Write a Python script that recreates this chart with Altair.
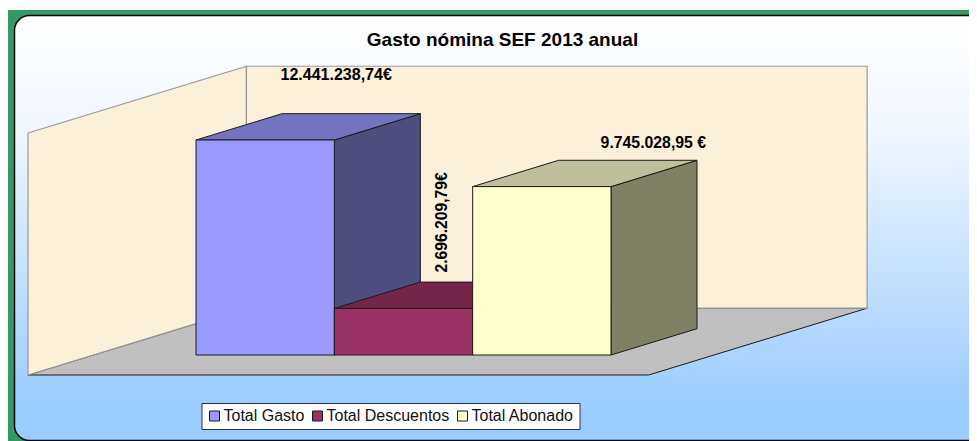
import altair as alt
import pandas as pd

# ---- chart values ----
categories = ["Total Gasto", "Total Descuentos", "Total Abonado"]
values = [12441238.74, 2696209.79, 9745028.95]
value_labels = ["12.441.238,74€", "2.696.209,79€", "9.745.028,95 €"]
title_text = "Gasto nómina SEF 2013 anual"
axis_max = 14000000

# ---- 3D projection ----
W, H = 961, 433
UNIT = 138.33          # px per category
EURO_PX = 215 / values[0]
DX = 86 / UNIT         # x shift per depth unit
DY = 26.3 / EURO_PX    # y shift per depth unit
D_FRONT, D_BACK = -0.76, 1.78
F_L, F_R = -0.742, 3.745

x_scale = alt.Scale(domain=[(8 - 196) / UNIT, (969 - 196) / UNIT], range=[0, W], zero=False, nice=False)
y_scale = alt.Scale(domain=[(355 - 441) / EURO_PX, (355 - 8) / EURO_PX], range=[H, 0], zero=False, nice=False)

def X(u, d=0): return u + d * DX
def Y(v, d=0): return v + d * DY

X_ = alt.X("x:Q", scale=x_scale, axis=None, title=None)
Y_ = alt.Y("y:Q", scale=y_scale, axis=None, title=None, stack=None)
EDGE = "#1a1a1a"

def side(u, v, d0, d1, fill, stroke=EDGE, width=1):
    df = pd.DataFrame({"x": [X(u, d0), X(u, d1)],
                       "y": [Y(v, d0), Y(v, d1)],
                       "y2": [Y(0, d0), Y(0, d1)]})
    return alt.Chart(df).mark_area(orient="vertical", fill=fill, stroke=stroke, strokeWidth=width, opacity=1).encode(
        x=X_, y=Y_, y2="y2:Q")

def top(u0, u1, v, d0, d1, fill, stroke=EDGE, width=1):
    df = pd.DataFrame({"y": [Y(v, d0), Y(v, d1)],
                       "x": [X(u0, d0), X(u0, d1)],
                       "x2": [X(u1, d0), X(u1, d1)]})
    return alt.Chart(df).mark_area(orient="horizontal", fill=fill, stroke=stroke, strokeWidth=width, opacity=1).encode(
        x=X_, x2="x2:Q", y=Y_)

# Background
outer = alt.Chart(pd.DataFrame({"a": [0]})).mark_rect(fill="#339966").encode(
    x=alt.value(-1), x2=alt.value(W), y=alt.value(2), y2=alt.value(H))
panel = alt.Chart(pd.DataFrame({"a": [0]})).mark_rect(
    cornerRadius=15, stroke="#0a0a0a", strokeWidth=1.5,
    fill=alt.Gradient(gradient="linear", x1=0, y1=0, x2=0, y2=1, stops=[
        alt.GradientStop(offset=0, color="#ffffff"),
        alt.GradientStop(offset=0.28, color="#f0f6ff"),
        alt.GradientStop(offset=0.70, color="#b9daff"),
        alt.GradientStop(offset=0.92, color="#99ccff"),
        alt.GradientStop(offset=1, color="#99ccff")])
).encode(x=alt.value(6.5), x2=alt.value(W + 14), y=alt.value(7.5), y2=alt.value(H - 0.5))

WALL = "#fbf0d9"
WALL_EDGE = "#999999"
floor = top(F_L, F_R, 0, D_FRONT, D_BACK, "#c0c0c0", EDGE, 1)
left_wall = side(F_L, axis_max, D_FRONT, D_BACK, WALL, WALL_EDGE, 1.2)
back_df = pd.DataFrame({"x": [X(F_L, D_BACK)], "x2": [X(F_R, D_BACK)],
                        "y": [Y(axis_max, D_BACK)], "y2": [Y(0, D_BACK)]})
back_wall = alt.Chart(back_df).mark_rect(fill=WALL, stroke=WALL_EDGE, strokeWidth=1.2).encode(
    x=X_, x2="x2:Q", y=Y_, y2="y2:Q")

# Bars
front_colors = ["#9999ff", "#993366", "#ffffcc"]
top_colors = ["#7373bf", "#732649", "#bfbf99"]
side_colors = ["#4d4d80", "#4d1a33", "#808066"]

faces = []
for i, v in enumerate(values):
    faces.append(side(i + 1, v, 0, 1, side_colors[i]))
    faces.append(top(i, i + 1, v, 0, 1, top_colors[i]))

front_df = pd.DataFrame({"x": [float(i) for i in range(3)], "x2": [float(i + 1) for i in range(3)],
                         "y": values, "y2": [0.0] * 3, "cat": categories})
fronts = alt.Chart(front_df).mark_rect(stroke=EDGE, strokeWidth=1, opacity=1).encode(
    x=X_, x2="x2:Q", y=Y_, y2="y2:Q",
    fill=alt.Fill("cat:N", sort=categories,
                  scale=alt.Scale(domain=categories, range=front_colors),
                  legend=alt.Legend(
                      title=None, orient="none", legendX=193.5, legendY=395, direction="horizontal",
                      columns=3, symbolType="square", symbolSize=100, symbolStrokeColor="#1a1a1a",
                      symbolStrokeWidth=1, symbolOpacity=1,
                      fillColor="#ffffff", strokeColor="#333344", padding=5, columnPadding=5,
                      labelFont="Liberation Sans", labelFontSize=16, labelColor="#111111", labelOffset=1)))

# Value labels
def label(i, dx, dy, size, angle=0):
    df = pd.DataFrame({"x": [i + 0.5], "y": [values[i]], "t": [value_labels[i]]})
    return alt.Chart(df).mark_text(font="Liberation Sans", fontWeight="bold", fontSize=size, color="#000000",
                                   dx=dx, dy=dy, angle=angle, align="center", baseline="middle").encode(
        x=X_, y=Y_, text="t:N")

labels = [label(0, 71, -65, 16), label(1, 86, 39, 15.7, 270), label(2, 111.5, -44, 15.8)]

chart = alt.layer(outer, panel, floor, left_wall, back_wall, *faces, fronts, *labels).properties(
    width=W, height=H,
    padding=0,
    autosize=alt.AutoSizeParams(type="none"),
    background="#ffffff",
    title=alt.TitleParams(title_text, anchor="middle", dx=14, dy=42, offset=0, font="Liberation Sans",
                          fontWeight="bold", fontSize=19, color="#000000"),
).configure_view(stroke=None)

chart.save("out.html", embed_options={"renderer": "svg", "actions": False})
